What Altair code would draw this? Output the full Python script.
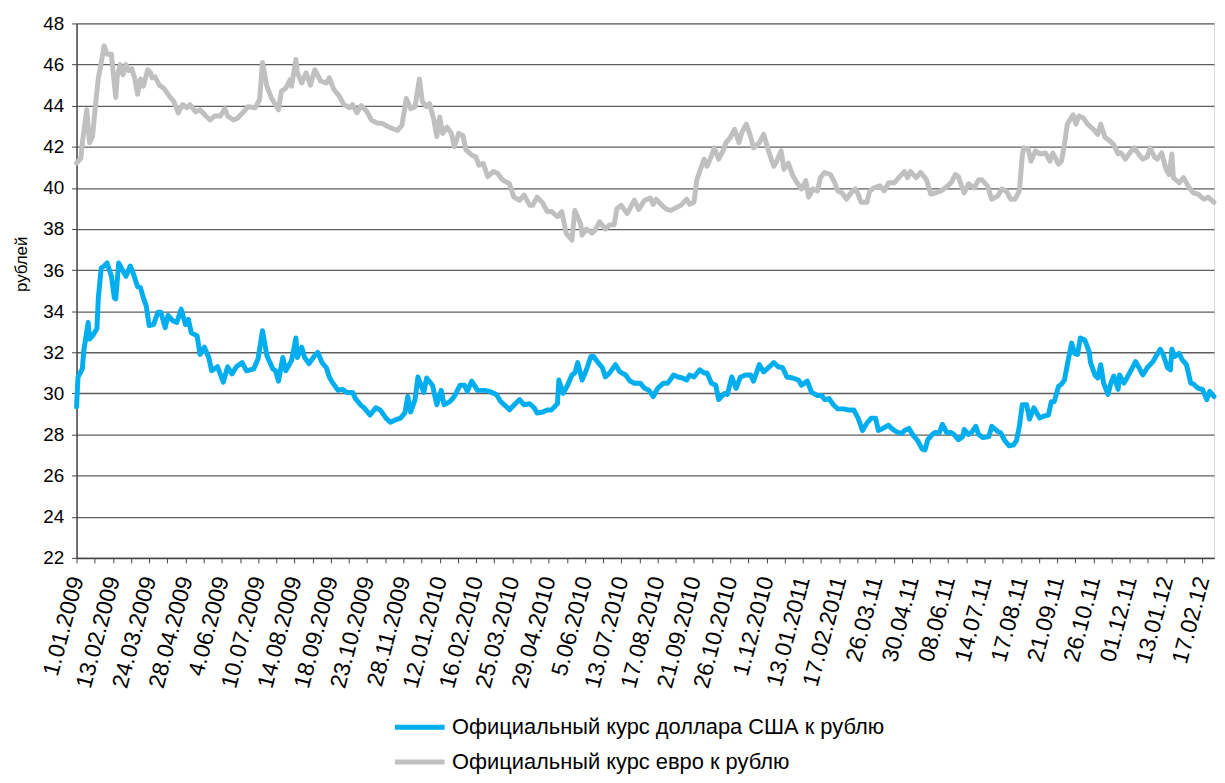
import altair as alt
import pandas as pd

x_labels = ["1.01.2009", "13.02.2009", "24.03.2009", "28.04.2009", "4.06.2009", "10.07.2009",
            "14.08.2009", "18.09.2009", "23.10.2009", "28.11.2009", "12.01.2010", "16.02.2010",
            "25.03.2010", "29.04.2010", "5.06.2010", "13.07.2010", "17.08.2010", "21.09.2010",
            "26.10.2010", "1.12.2010", "13.01.2011", "17.02.2011", "26.03.11", "30.04.11",
            "08.06.11", "14.07.11", "17.08.11", "21.09.11", "26.10.11", "01.12.11",
            "13.01.12", "17.02.12"]

usd_name = "Официальный курс доллара США к рублю"
eur_name = "Официальный курс евро к рублю"

usd_day = [0, 1, 4, 5, 8, 9, 11, 14, 15, 17, 19, 21, 24, 26, 27, 29, 32, 34, 37, 39,
           42, 44, 46, 48, 50, 53, 56, 58, 61, 63, 66, 69, 72, 75, 77, 79, 83, 85, 88, 91,
           93, 97, 101, 104, 107, 110, 114, 117, 122, 125, 128, 131, 135, 137, 139, 142, 144, 148, 151, 152,
           155, 157, 160, 163, 166, 169, 172, 174, 176, 180, 183, 186, 190, 192, 196,
           198, 202, 206, 209, 213, 216, 219, 223, 226, 228, 230, 233, 235, 239, 241, 245, 248, 251, 253, 257,
           260, 264, 267, 269, 272, 276, 281, 284, 289, 292, 296, 298, 302, 305, 308, 312, 315, 317, 321, 324,
           327, 331, 332, 335, 338, 341, 343, 345, 348, 351, 354, 356, 359, 362, 364, 367, 371, 374, 378, 381,
           384, 388,
           391, 394, 397, 400, 404, 407, 411, 414, 417, 420, 422, 425, 429, 432, 434, 437, 440, 442, 446, 448,
           451, 454, 457, 461, 464, 466, 470, 473, 477, 480, 483, 486, 489, 493, 497, 499, 503, 506, 510, 513,
           515, 518, 521, 524, 528, 531, 535, 538, 541, 544, 547, 550, 552, 555, 559, 561, 564, 568, 570, 573,
           576, 579, 582, 584,
           586, 589, 591, 594, 596, 599, 602, 604, 607, 610, 611, 614, 616, 619, 621, 624, 628, 630, 634, 636,
           639, 642, 645, 647, 649, 651, 654, 656, 659, 661, 663, 666, 669, 671, 673, 676, 678, 680, 682, 685,
           687, 689, 691, 694, 697, 698, 701, 703, 705, 707, 710, 712, 714, 717, 718, 721, 723, 726, 729, 731,
           734, 737, 741, 743, 746, 748, 751, 753, 754, 756, 759, 761, 764, 767, 769, 772, 775, 778, 780, 783]

usd_val = [29.35, 30.8, 31.2, 32.1, 33.45, 32.65, 32.8, 33.15, 34.65, 36.1,
           36.2, 36.35, 35.7, 34.65, 34.6, 36.35, 35.95, 35.7, 36.2, 35.85,
           35.2, 35.15, 34.65, 34.25, 33.3, 33.35, 33.95, 33.95, 33.2, 33.8,
           33.55, 33.45, 34.1, 33.35, 33.6, 32.95, 32.8, 31.9, 32.25, 31.75,
           31.1, 31.3, 30.55, 31.3, 30.95, 31.3, 31.5, 31.1, 31.2, 31.7,
           33.05, 31.85, 31.2, 31.1, 30.6, 31.75, 31.1, 31.6, 32.7, 31.75,
           32.25, 31.75, 31.45, 31.75, 32.0, 31.5, 31.25, 30.8, 30.55, 30.15,
           30.2, 30.05, 30.05, 29.75, 29.4,
           29.3, 28.95, 29.3, 29.2, 28.8, 28.6, 28.7, 28.8, 29.05, 29.85,
           29.1, 29.7, 30.8, 30.05, 30.75, 30.4, 29.45, 30.15, 29.45, 29.6,
           29.85, 30.4, 30.4, 30.1, 30.6, 30.15, 30.15, 30.1, 29.95, 29.6,
           29.35, 29.2, 29.5, 29.7, 29.45, 29.5, 29.3, 29.05, 29.1, 29.2,
           29.2, 29.5, 30.65, 30.0, 30.4, 30.9, 31.0, 31.5, 30.65, 31.15,
           31.8, 31.8, 31.5, 31.25, 30.8, 31.0, 31.4, 31.05, 30.9, 30.6,
           30.5, 30.5,
           30.25, 30.15, 29.85, 30.25, 30.5, 30.5, 30.9, 30.8, 30.75, 30.65,
           30.9, 30.8, 31.15, 31.0, 31.0, 30.5, 30.4, 29.7, 30.0, 29.95,
           30.8, 30.25, 30.8, 30.9, 30.9, 30.6, 31.4, 31.05, 31.3, 31.5,
           31.3, 31.25, 30.8, 30.75, 30.65, 30.4, 30.6, 30.05, 29.9, 29.9,
           29.7, 29.75, 29.45, 29.25, 29.25, 29.2, 29.2, 28.8, 28.2, 28.55,
           28.8, 28.8, 28.2, 28.3, 28.45, 28.3, 28.15, 28.05, 28.2, 28.3,
           27.95, 27.7, 27.3, 27.25,
           27.75, 28.0, 28.1, 28.1, 28.5, 28.1, 28.1, 28.0, 27.75, 27.9,
           28.25, 28.0, 28.1, 28.4, 28.0, 27.85, 27.9, 28.4, 28.15, 28.1,
           27.7, 27.45, 27.5, 27.7, 28.4, 29.45, 29.45, 28.75, 29.3, 29.05,
           28.8, 28.9, 28.95, 29.6, 29.6, 30.35, 30.45, 30.65, 31.4, 32.45,
           31.95, 31.9, 32.7, 32.6, 32.05, 31.5, 30.9, 30.75, 31.4, 30.5,
           29.95, 30.5, 30.85, 30.2, 30.9, 30.5, 30.75, 31.15, 31.55, 31.3,
           30.9, 31.25, 31.55, 31.8, 32.15, 31.9, 31.25, 31.15, 32.15, 31.8,
           31.95, 31.65, 31.4, 30.5, 30.45, 30.25, 30.2, 29.7, 30.1, 29.85]

eur_day = [0, 3, 4, 7, 9, 11, 13, 15, 17, 19, 21, 24, 25, 27, 28, 30, 32, 34, 36, 38,
           40, 42, 44, 46, 49, 51, 52, 54, 57, 60, 64, 67, 70, 73, 76, 78, 82, 85, 89, 92,
           95, 99, 102, 104, 108, 111, 115, 118, 123, 126, 128, 131, 134, 136, 139, 141, 144, 147, 148, 151,
           152, 155, 158, 161, 164, 168, 172, 174, 177, 181, 184, 188, 190, 193, 196,
           200, 203, 207, 210, 214, 217, 221, 224, 227, 230, 233, 236, 238, 241, 243, 246, 248, 250, 252, 255,
           258, 260, 263, 266, 268, 272, 275, 277, 280, 283, 287, 290, 293, 298, 301, 305, 308, 312, 314, 317,
           321, 324, 327, 331, 334, 337, 341, 343, 347, 348, 351, 355, 357, 360, 364, 367, 370, 372, 375, 379,
           384, 387, 391,
           395, 397, 399, 403, 406, 409, 413, 416, 420, 422, 425, 427, 429, 432, 434, 437, 439, 442, 445, 447,
           450, 453, 456, 458, 461, 464, 466, 470, 473, 477, 480, 482, 485, 487, 490, 493, 496, 499, 502, 504,
           507, 510, 512, 515, 519, 522, 524, 527, 530, 533, 536, 538, 540, 544, 546, 549, 553, 556, 559, 563,
           566, 570, 572, 574, 578, 581, 584,
           585, 588, 591, 595, 598, 602, 605, 607, 611, 614, 618, 621, 623, 627, 630, 634, 637, 640, 643, 646,
           649, 651, 652, 655, 657, 660, 663, 667, 670, 672, 676, 678, 680, 682, 686, 688, 690, 693, 696, 700,
           703, 705, 708, 711, 714, 717, 719, 722, 725, 728, 731, 734, 737, 739, 742, 744, 747, 750, 752, 754,
           755, 759, 762, 766, 769, 772, 776, 779, 783]

eur_val = [41.2, 41.45, 42.2, 43.8, 42.2, 42.5, 44.0, 45.35, 46.1, 46.9,
           46.5, 46.5, 45.75, 44.4, 45.4, 46.0, 45.5, 46.0, 45.7, 45.8,
           45.35, 44.55, 45.3, 44.95, 45.75, 45.6, 45.35, 45.4, 45.0, 44.85,
           44.45, 44.2, 43.65, 44.05, 43.9, 44.05, 43.7, 43.8, 43.5, 43.3,
           43.5, 43.5, 43.85, 43.5, 43.3, 43.4, 43.7, 43.95, 43.9, 44.3,
           46.1, 44.95, 44.4, 44.15, 43.8, 44.7, 44.85, 45.25, 44.95, 46.25,
           45.6, 45.1, 45.6, 45.0, 45.75, 45.2, 45.1, 45.35, 44.8, 44.45,
           44.05, 43.9, 44.05, 43.65, 44.0,
           43.7, 43.3, 43.15, 43.15, 43.0, 42.9, 42.8, 43.05, 44.35, 43.85,
           43.95, 45.3, 44.2, 43.95, 44.1, 43.3, 42.5, 43.45, 42.65, 42.95,
           42.65, 42.0, 42.65, 42.55, 41.85, 41.6, 41.5, 41.1, 41.2, 40.55,
           40.8, 40.7, 40.4, 40.2, 39.55, 39.4, 39.65, 39.15, 39.15, 39.55,
           39.25, 38.85, 38.85, 38.6, 38.85, 37.8, 37.45, 38.9, 38.25, 37.7,
           38.0, 37.8, 37.95, 38.35, 38.0, 38.2, 38.2, 39.0, 39.15, 38.75,
           39.4, 38.95, 39.4,
           39.5, 39.2, 39.45, 39.15, 38.97, 38.9, 39.05, 39.15, 39.45, 39.2,
           39.3, 40.4, 40.8, 41.4, 41.05, 41.55, 41.95, 41.4, 41.8, 42.2,
           42.45, 42.85, 42.2, 42.7, 43.1, 42.5, 41.95, 42.2, 42.6, 41.65,
           41.05, 41.3, 41.8, 40.9, 41.2, 40.6, 40.25, 39.95, 40.35, 39.55,
           39.95, 39.85, 40.5, 40.75, 40.65, 40.25, 39.85, 39.75, 39.45, 39.75,
           39.95, 39.7, 39.3, 39.3, 39.85, 40.0, 40.1, 39.85, 40.25, 40.25,
           40.5, 40.8, 40.5, 40.8, 40.5, 40.75, 40.5,
           40.4, 39.7, 39.75, 39.85, 40.0, 40.25, 40.65, 40.55, 39.75, 40.2,
           40.0, 40.4, 40.4, 40.1, 39.45, 39.6, 39.95, 39.85, 39.45, 39.45,
           39.85, 41.55, 41.95, 41.9, 41.3, 41.8, 41.65, 41.7, 41.3, 41.7,
           41.15, 41.3, 42.1, 43.1, 43.55, 43.1, 43.5, 43.4, 43.1, 42.85,
           42.6, 43.1, 42.45, 42.3, 42.1, 41.65, 41.7, 41.4, 41.7, 41.95,
           41.65, 41.4, 41.5, 41.95, 41.5, 41.4, 41.7, 40.9, 40.65, 41.65,
           40.5, 40.25, 40.5, 40.0, 39.75, 39.7, 39.45, 39.55, 39.3]

y_ticks = list(range(22, 49, 2))
days_per_label = 25
x_ticks = [i * days_per_label / 2 for i in range(2 * (len(x_labels) - 1) + 1)]

df = pd.concat([
    pd.DataFrame({"day": usd_day, "rate": usd_val, "series": usd_name, "order": 0}),
    pd.DataFrame({"day": eur_day, "rate": eur_val, "series": eur_name, "order": 1}),
], ignore_index=True)

label_js = "[" + ",".join("'" + s + "'" for s in x_labels) + "]"
label_expr = (f"datum.value % {days_per_label} == 0 ? "
              f"{label_js}[round(datum.value / {days_per_label})] : ''")

FONT = "Liberation Sans"

chart = alt.Chart(df).mark_line(strokeWidth=5, strokeCap="round", strokeJoin="round").encode(
    x=alt.X("day:Q",
            scale=alt.Scale(domain=[0, 783], nice=False, zero=False),
            axis=alt.Axis(values=x_ticks, labelExpr=label_expr, title=None, grid=False,
                          labelAngle=285, labelAlign="right", labelBaseline="middle",
                          labelPadding=14, labelOverlap=False, labelFlush=False,
                          labelBound=False, labelFontSize=23, labelFont=FONT,
                          labelColor="#000", tickSize=5, tickColor="#444",
                          domainColor="#444", domainWidth=1.5)),
    y=alt.Y("rate:Q",
            scale=alt.Scale(domain=[22, 48], nice=False, zero=False),
            axis=alt.Axis(values=y_ticks, title="рублей", titleFont=FONT, titleFontSize=17,
                          titleFontWeight="normal", titleColor="#000", titlePadding=12,
                          titleY=242,
                          labelFont=FONT, labelFontSize=19, labelColor="#000",
                          labelPadding=8, tickSize=5, tickColor="#444",
                          domainColor="#444", domainWidth=1.5,
                          grid=True, gridColor="#5e5e5e", gridWidth=1.3)),
    color=alt.Color("series:N",
                    scale=alt.Scale(domain=[usd_name, eur_name], range=["#00AEEF", "#C0C0C0"]),
                    legend=alt.Legend(title=None, orient="none", legendX=333, legendY=696,
                                      direction="vertical", symbolType="M-2.5,0H2.5",
                                      symbolSize=400, symbolStrokeWidth=5,
                                      labelFont=FONT, labelFontSize=22, labelColor="#000",
                                      labelLimit=700, rowPadding=11, labelOffset=20)),
    order=alt.Order("order:Q"),
    detail="series:N",
).properties(
    width=1145,
    height=538,
    padding={"left": 69, "top": 13, "right": 3, "bottom": 216},
    autosize=alt.AutoSizeParams(type="none"),
).configure_view(stroke=None).configure(background="white")

chart.save("out.html", embed_options={"renderer": "svg", "actions": False})
